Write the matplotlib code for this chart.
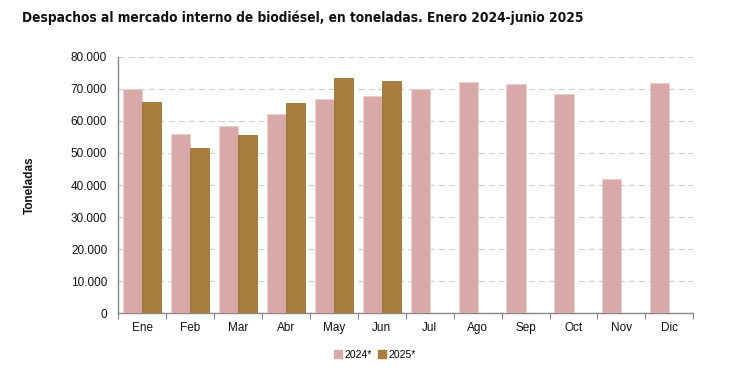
import matplotlib
matplotlib.use("Agg")
import matplotlib.pyplot as plt
import numpy as np
from matplotlib.ticker import FuncFormatter, FixedLocator
from matplotlib.patches import Patch

months = ["Ene", "Feb", "Mar", "Abr", "May", "Jun", "Jul", "Ago", "Sep", "Oct", "Nov", "Dic"]
s2024 = [70000, 55900, 58300, 62100, 66700, 67800, 70000, 72000, 71600, 68400, 42000, 71800]
s2025 = [65900, 51400, 55500, 65600, 73400, 72300]
series_names = ["2024*", "2025*"]
yticks = [0, 10000, 20000, 30000, 40000, 50000, 60000, 70000, 80000]

plt.rcParams['font.family'] = ['Liberation Sans', 'DejaVu Sans']

fig = plt.figure(figsize=(7.3, 3.85), dpi=100)
ax = fig.add_axes([118.3/730, 1-313.3/385, (693.3-118.3)/730, (313.3-56.7)/385])

c24 = "#D9A8A8"
c25 = "#A97D3E"
w = 0.4
x = np.arange(len(months))
ax.bar(x[:len(s2024)] - w/2, s2024, width=w, color=c24, edgecolor="#EBCFCF", linewidth=0.6, zorder=3)
ax.bar(x[:len(s2025)] + w/2, s2025, width=w, color=c25, edgecolor="#9A6E30", linewidth=0.6, zorder=3)

ax.set_xlim(-0.5, len(months) - 0.5)
ax.set_ylim(0, 80000)
ax.yaxis.set_major_locator(FixedLocator(yticks))
ax.yaxis.set_major_formatter(FuncFormatter(lambda v, p: f"{int(v):,}".replace(",", ".")))
ax.grid(axis='y', color="#D0D0D0", linestyle=(0, (5, 3)), linewidth=0.9, zorder=0)
ax.set_axisbelow(True)

ax.set_xticks(x)
ax.set_xticklabels(months)
ax.xaxis.set_minor_locator(FixedLocator(np.arange(-0.5, len(months), 1.0)))
ax.tick_params(axis='x', which='major', length=0, pad=6, labelsize=8.5, colors="#111111")
ax.tick_params(axis='x', which='minor', length=4, width=0.8, color="#888888", direction='out')
ax.tick_params(axis='y', length=0, pad=8, labelsize=8.5, colors="#111111")

for s in ['top', 'right']:
    ax.spines[s].set_visible(False)
for s in ['left', 'bottom']:
    ax.spines[s].set_color("#888888")
    ax.spines[s].set_linewidth(1.0)

fig.text(30/730, 1-185/385, "Toneladas", rotation=90, fontsize=8.5, fontweight='bold',
         ha='center', va='center', color="#111111")

fig.text(22/730, 1-18/385, "Despachos al mercado interno de biodiésel, en toneladas. Enero 2024-junio 2025",
         fontsize=9.8, fontweight='bold', ha='left', va='center', color="#111111",
         fontstretch='condensed',
         family=['DejaVu Sans Condensed', 'Liberation Sans Narrow', 'DejaVu Sans'])

handles = [Patch(facecolor=c24, edgecolor=c24), Patch(facecolor=c25, edgecolor=c25)]
fig.legend(handles, series_names, loc='center', bbox_to_anchor=(375/730, 1-355/385), ncol=2,
           frameon=False, fontsize=7.5, handlelength=0.8, handleheight=0.8, handletextpad=0.2,
           columnspacing=0.6)

fig.savefig("out.png", dpi=100)
